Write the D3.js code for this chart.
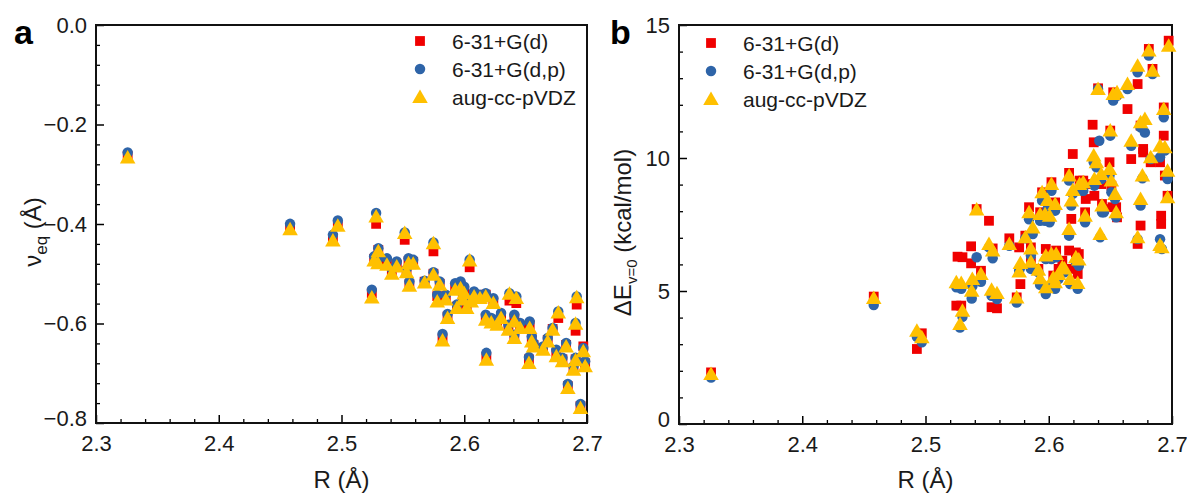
<!DOCTYPE html>
<html><head><meta charset="utf-8">
<script src="https://cdn.jsdelivr.net/npm/d3@7/dist/d3.min.js"></script>
<style>body{margin:0;background:#fff}svg{display:block;font-family:"Liberation Sans",Arial,sans-serif}</style>
</head><body><svg id="c" width="1187" height="494"></svg>
<script>
// ---------- Data ----------
const seriesNames = ["6-31+G(d)", "6-31+G(d,p)", "aug-cc-pVDZ"];
const xTicks = [2.3, 2.4, 2.5, 2.6, 2.7];
const aYTicks = [0.0, -0.2, -0.4, -0.6, -0.8];
const bYTicks = [0, 5, 10, 15];

// Panel a : nu_eq (Å) vs R (Å)
const aR  = [2.3258,2.4581,2.493,2.497,2.5247,2.5282,2.5266,2.530,2.5297,2.537,2.541,2.545,2.5515,2.553,2.5546,2.5553,2.5584,2.5677,2.5749,2.5749,2.578,2.580,2.5823,2.5864,2.585,2.5926,2.594,2.597,2.5988,2.600,2.602,2.6044,2.6057,2.608,2.6128,2.6175,2.6175,2.618,2.622,2.6237,2.6268,2.630,2.6368,2.636,2.6408,2.6408,2.6424,2.6455,2.6527,2.6533,2.655,2.6564,2.6642,2.668,2.672,2.675,2.6766,2.680,2.683,2.6844,2.689,2.6916,2.6907,2.6907,2.6947,2.697,2.6985];
const aSq = [-0.263,-0.408,-0.428,-0.403,-0.539,-0.3997,-0.47,-0.452,-0.476,-0.477,-0.497,-0.482,-0.4318,-0.495,-0.475,-0.521,-0.476,-0.516,-0.455,-0.50,-0.545,-0.52,-0.63,-0.586,-0.548,-0.527,-0.566,-0.524,-0.548,-0.534,-0.565,-0.487,-0.556,-0.542,-0.546,-0.542,-0.589,-0.668,-0.594,-0.556,-0.598,-0.585,-0.554,-0.608,-0.590,-0.626,-0.559,-0.605,-0.672,-0.603,-0.632,-0.643,-0.65,-0.633,-0.611,-0.66,-0.589,-0.672,-0.643,-0.726,-0.69,-0.562,-0.6146,-0.672,-0.766,-0.646,-0.68];
const aCi = [-0.2564,-0.3997,-0.4218,-0.393,-0.532,-0.378,-0.465,-0.4485,-0.470,-0.469,-0.49,-0.4753,-0.417,-0.4907,-0.4686,-0.5155,-0.472,-0.514,-0.437,-0.497,-0.542,-0.5155,-0.621,-0.581,-0.542,-0.519,-0.562,-0.5155,-0.539,-0.526,-0.556,-0.472,-0.549,-0.5356,-0.542,-0.539,-0.5824,-0.659,-0.589,-0.549,-0.592,-0.579,-0.539,-0.6025,-0.5824,-0.6226,-0.5456,-0.599,-0.6675,-0.596,-0.626,-0.639,-0.646,-0.629,-0.609,-0.6527,-0.576,-0.669,-0.639,-0.7217,-0.686,-0.5456,-0.599,-0.669,-0.7618,-0.649,-0.676];
const aTr = [-0.2664,-0.4104,-0.433,-0.4037,-0.5476,-0.385,-0.4733,-0.455,-0.479,-0.482,-0.50,-0.4853,-0.418,-0.497,-0.4787,-0.524,-0.480,-0.5175,-0.4385,-0.502,-0.5557,-0.522,-0.634,-0.589,-0.552,-0.532,-0.569,-0.529,-0.552,-0.539,-0.569,-0.4733,-0.556,-0.5456,-0.549,-0.5456,-0.5925,-0.673,-0.598,-0.559,-0.6025,-0.589,-0.540,-0.6125,-0.596,-0.629,-0.549,-0.609,-0.6795,-0.609,-0.636,-0.646,-0.6527,-0.636,-0.6125,-0.666,-0.578,-0.676,-0.646,-0.7297,-0.693,-0.547,-0.6005,-0.674,-0.770,-0.656,-0.686];

// Panel b : dE_v=0 (kcal/mol) vs R (Å)
const bR  = [2.326,2.458,2.493,2.497,2.525,2.529,2.526,2.530,2.528,2.530,2.537,2.537,2.5375,2.538,2.5415,2.5415,2.545,2.5515,2.5515,2.5545,2.5536,2.558,2.568,2.574,2.576,2.577,2.581,2.584,2.5855,2.5855,2.587,2.5916,2.593,2.593,2.5946,2.597,2.5976,2.5976,2.599,2.6007,2.6022,2.6022,2.6037,2.6052,2.6052,2.606,2.608,2.611,2.6128,2.6165,2.6165,2.6174,2.6183,2.6195,2.6195,2.622,2.6235,2.6244,2.625,2.628,2.6295,2.630,2.631,2.6356,2.6365,2.637,2.6387,2.640,2.641,2.6417,2.6426,2.6432,2.6447,2.6493,2.6499,2.6508,2.6517,2.6523,2.6538,2.6547,2.6554,2.6554,2.6639,2.6639,2.6669,2.6721,2.6721,2.6745,2.6745,2.6745,2.676,2.6766,2.6766,2.678,2.6812,2.6827,2.6842,2.6903,2.6903,2.6912,2.6912,2.6918,2.6933,2.6933,2.6942,2.6964,2.6964,2.6973];
const bSq = [1.94,4.79,2.82,3.41,4.45,4.45,6.29,6.27,null,null,6.68,6.04,null,null,null,8.08,5.76,7.64,null,6.60,4.39,4.35,6.98,4.76,6.64,5.26,7.08,8.15,6.10,6.64,null,5.83,null,7.96,8.71,null,null,6.58,null,null,9.09,null,5.58,8.33,null,6.52,5.83,6.14,null,9.44,6.52,5.83,7.71,10.15,null,6.45,5.64,6.39,9.15,9.15,7.96,8.46,9.02,11.25,10.59,8.58,null,12.62,null,null,9.02,8.27,8.08,9.84,11.03,8.96,8.15,12.47,null,8.15,7.77,null,11.84,null,9.96,12.78,6.77,7.46,null,11.22,null,10.34,10.21,null,14.10,9.84,13.35,9.84,null,7.83,7.52,null,10.84,11.90,9.34,null,8.58,14.41];
const bCi = [1.75,4.47,3.28,3.07,5.14,5.08,null,null,3.63,4.03,null,null,4.72,5.18,6.27,null,5.35,null,6.64,6.23,4.82,4.70,6.70,4.57,5.76,5.89,6.98,7.70,5.83,6.33,7.14,5.70,5.23,7.64,8.40,7.64,4.89,6.20,8.08,7.58,8.77,6.20,5.26,8.02,5.08,6.27,5.45,null,5.70,9.15,7.08,5.26,8.21,null,8.65,6.08,5.08,5.95,8.77,8.77,7.58,null,null,null,9.84,8.96,9.65,12.59,10.65,7.02,9.21,7.96,7.96,9.34,10.84,8.71,null,12.16,8.46,7.77,null,12.34,null,12.59,10.46,13.22,6.95,null,8.21,11.15,9.24,null,null,10.96,13.85,9.96,13.16,10.03,6.95,null,null,6.58,null,11.53,10.28,9.21,null,null];
const bTr = [1.88,4.74,3.51,3.26,5.33,5.30,null,null,3.76,4.26,null,null,5.01,5.45,null,8.06,5.64,null,6.77,6.52,5.05,4.92,6.77,4.76,5.73,6.05,7.02,7.96,6.10,6.60,7.39,5.80,5.48,7.89,8.71,7.89,5.14,6.33,8.42,7.83,9.02,6.39,5.51,8.27,5.33,6.39,5.64,5.89,5.85,9.34,7.33,5.45,8.40,null,8.80,6.27,5.30,6.18,9.02,9.09,7.83,null,null,null,10.09,9.21,9.84,12.59,null,7.14,9.40,8.21,null,9.59,11.03,9.15,null,12.41,8.65,7.96,null,12.47,null,12.78,10.65,13.47,7.02,null,8.46,11.34,9.34,null,null,11.47,14.04,10.03,13.28,10.46,6.73,null,null,6.64,null,11.84,10.40,9.52,8.52,14.22];

// ---------- Styles ----------
const colors = ["#f00000", "#2e64a8", "#ffc000"];
const shapes = [d3.symbolSquare, d3.symbolCircle, d3.symbolTriangle];
const sizes = [96, 86, 105];

const svg = d3.select("#c");
const font = '"Liberation Sans", Arial, sans-serif';

function panel(opts) {
  const {x0, x1, y0, y1, ydom, yticks, yminor, fmt, R, series, letter, letterX, legX, legY, yTitle, yTitleX} = opts;
  const x = d3.scaleLinear().domain([2.3, 2.7]).range([x0, x1]);
  const y = d3.scaleLinear().domain(ydom).range([y1, y0]);
  const g = svg.append("g");

  // minor ticks
  const xMinor = d3.range(2.3, 2.7001, 0.02).map(v => +v.toFixed(2)).filter(v => !xTicks.includes(v));
  g.append("g").attr("transform", `translate(0,${y1})`)
    .call(d3.axisBottom(x).tickValues(xMinor).tickSize(-4).tickFormat(""))
    .call(s => s.select(".domain").remove())
    .call(s => s.selectAll("line").attr("stroke-width", 1.3));
  g.append("g").attr("transform", `translate(${x0},0)`)
    .call(d3.axisLeft(y).tickValues(yminor).tickSize(-4).tickFormat(""))
    .call(s => s.select(".domain").remove())
    .call(s => s.selectAll("line").attr("stroke-width", 1.3));

  // major axes
  g.append("g").attr("transform", `translate(0,${y1})`)
    .call(d3.axisBottom(x).tickValues(xTicks).tickSize(-8).tickPadding(12).tickFormat(d3.format(".1f")))
    .call(s => s.select(".domain").remove())
    .call(s => s.selectAll("line").attr("stroke-width", 1.5))
    .call(s => s.selectAll("text").attr("font-size", 22).attr("font-family", font).attr("fill", "#1a1a1a"));
  g.append("g").attr("transform", `translate(${x0},0)`)
    .call(d3.axisLeft(y).tickValues(yticks).tickSize(-8).tickPadding(9).tickFormat(fmt))
    .call(s => s.select(".domain").remove())
    .call(s => s.selectAll("line").attr("stroke-width", 1.5))
    .call(s => s.selectAll("text").attr("font-size", 22).attr("font-family", font).attr("fill", "#1a1a1a")
      .attr("dy", d => d === ydom[0] ? "0.1em" : "0.32em"));

  // frame
  g.append("rect").attr("x", x0).attr("y", y0).attr("width", x1 - x0).attr("height", y1 - y0)
    .attr("fill", "none").attr("stroke", "#111").attr("stroke-width", 2);

  // points
  series.forEach((vals, si) => {
    const sym = d3.symbol().type(shapes[si]).size(sizes[si]);
    g.append("g").selectAll("path")
      .data(R.map((r, i) => [r, vals[i]]).filter(d => d[1] !== null))
      .join("path")
      .attr("d", sym)
      .attr("transform", d => `translate(${x(d[0])},${y(d[1]) + (si === 2 ? 1.5 : 0)})`)
      .attr("fill", colors[si]);
  });

  // legend
  seriesNames.forEach((name, i) => {
    const ly = legY + i * 28;
    g.append("path").attr("d", d3.symbol().type(shapes[i]).size(sizes[i])())
      .attr("transform", `translate(${legX},${ly + (i === 2 ? 1.5 : 0)})`).attr("fill", colors[i]);
    g.append("text").attr("x", legX + 32).attr("y", ly + 7.5).attr("font-size", 21)
      .attr("font-family", font).attr("fill", "#1a1a1a").text(name);
  });

  // x title
  g.append("text").attr("x", (x0 + x1) / 2).attr("y", 488).attr("text-anchor", "middle")
    .attr("font-size", 24).attr("font-family", font).attr("fill", "#1a1a1a").text("R (Å)");

  // y title
  const yt = g.append("text").attr("transform", `translate(${yTitleX},${(y0 + y1) / 2 + 8}) rotate(-90)`)
    .attr("text-anchor", "middle").attr("font-size", 24).attr("font-family", font).attr("fill", "#1a1a1a");
  yTitle(yt);

  // letter
  g.append("text").attr("x", letterX).attr("y", 44).attr("font-size", 34).attr("font-weight", "bold")
    .attr("font-family", font).attr("fill", "#000").text(letter);
}

panel({
  x0: 96, x1: 587, y0: 25, y1: 423, ydom: [-0.8, 0], yticks: aYTicks,
  yminor: d3.range(-0.76, -0.01, 0.04).map(v => +v.toFixed(2)).filter(v => Math.abs(v * 5 - Math.round(v * 5)) > 1e-6),
  fmt: d3.format(".1f"), R: aR, series: [aSq, aCi, aTr], letter: "a", letterX: 14,
  legX: 420, legY: 41, yTitleX: 41,
  yTitle: t => { t.append("tspan").text("ν"); t.append("tspan").attr("font-size", 17).attr("dy", 6).text("eq"); t.append("tspan").attr("dy", -6).text(" (Å)"); }
});

panel({
  x0: 679, x1: 1172, y0: 25, y1: 424, ydom: [0, 15], yticks: bYTicks,
  yminor: [1,2,3,4,6,7,8,9,11,12,13,14],
  fmt: d3.format("d"), R: bR, series: [bSq, bCi, bTr], letter: "b", letterX: 610,
  legX: 711, legY: 43, yTitleX: 631,
  yTitle: t => { t.append("tspan").text("ΔE"); t.append("tspan").attr("font-size", 15).attr("dy", 6).text("v=0"); t.append("tspan").attr("dy", -6).text(" (kcal/mol)"); }
});
</script>
</body></html>
